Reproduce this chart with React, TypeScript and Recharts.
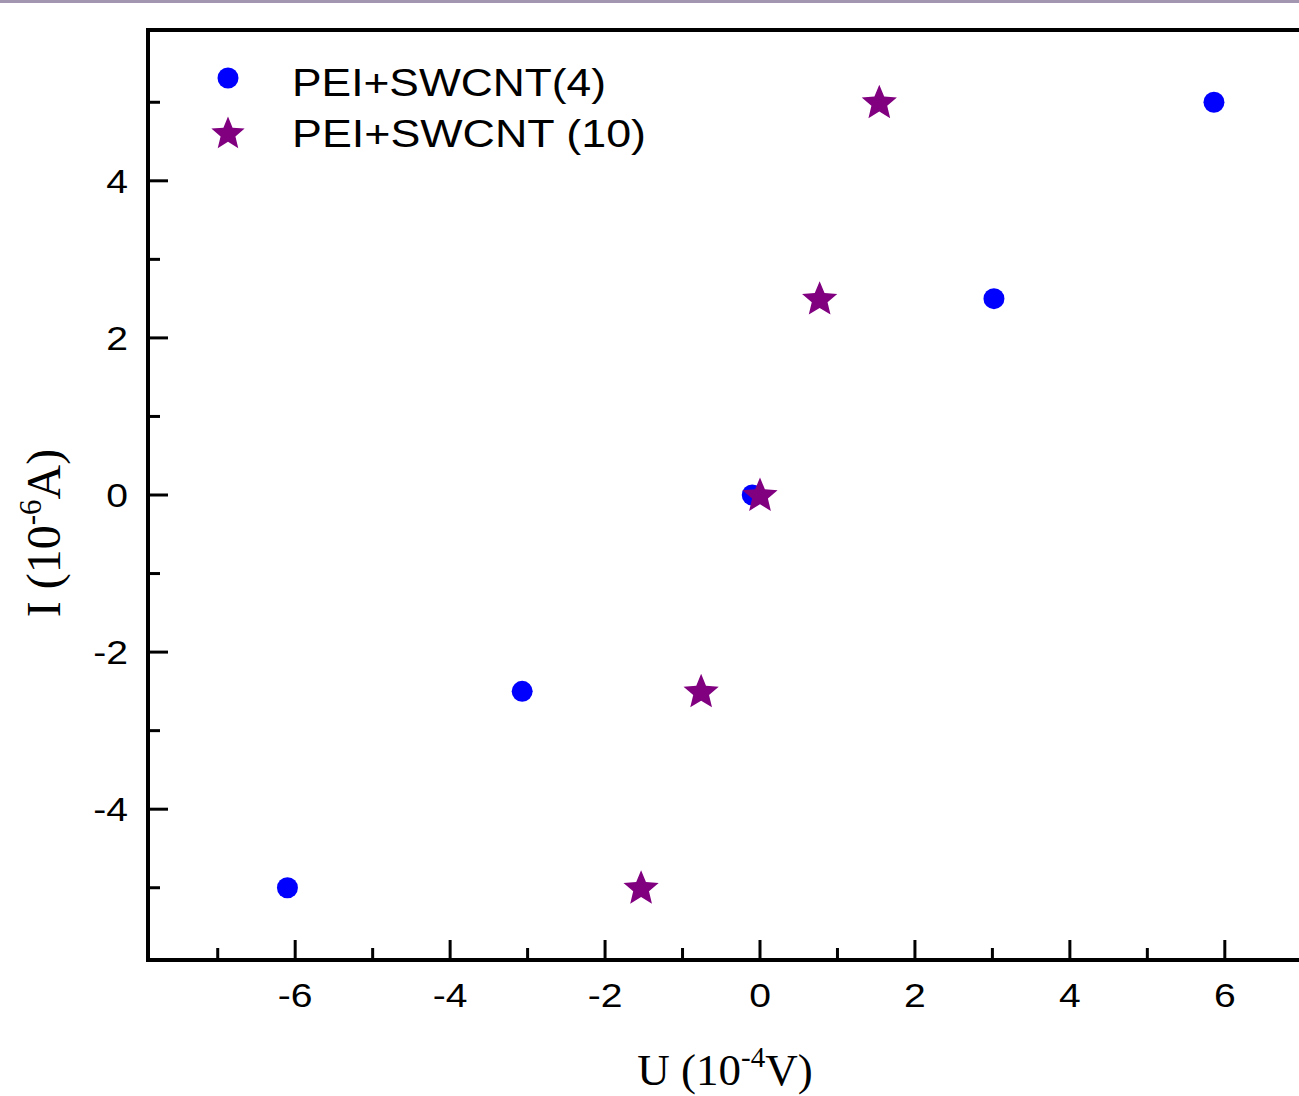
import React from "react";
import { ScatterChart, Scatter, XAxis, YAxis, ReferenceArea, Legend } from "recharts";

const seriesNames = ["PEI+SWCNT(4)", "PEI+SWCNT (10)"];
const swcnt4X = [-6.1, -3.07, -0.1, 3.02, 5.86];
const swcnt4Y = [-5, -2.5, 0, 2.5, 5];
const swcnt10X = [-1.535, -0.76, 0, 0.77, 1.54];
const swcnt10Y = [-5, -2.5, 0, 2.5, 5];
const xTicks = [-7, -6, -5, -4, -3, -2, -1, 0, 1, 2, 3, 4, 5, 6, 7];
const yTicks = [-5, -4, -3, -2, -1, 0, 1, 2, 3, 4, 5];
const X_DOMAIN: [number, number] = [-7.9, 7.9];
const Y_DOMAIN: [number, number] = [-5.92, 5.92];

const data4 = swcnt4X.map((x, i) => ({ x, y: swcnt4Y[i] }));
const data10 = swcnt10X.map((x, i) => ({ x, y: swcnt10Y[i] }));

const BLUE = "#0000FF";
const PURPLE = "#800080";
const SANS = "'Liberation Sans', Arial, sans-serif";
const SERIF = "'Liberation Serif', 'Times New Roman', serif";

function starPath(cx: number, cy: number, R: number, r: number) {
  const pts: string[] = [];
  for (let i = 0; i < 10; i++) {
    const rad = i % 2 === 0 ? R : r;
    const a = -Math.PI / 2 + (i * Math.PI) / 5;
    pts.push(`${(cx + rad * Math.cos(a)).toFixed(2)},${(cy + rad * Math.sin(a)).toFixed(2)}`);
  }
  return "M" + pts.join("L") + "Z";
}

const CircleShape = (props: any) => {
  const { cx, cy } = props;
  return <circle cx={cx} cy={cy} r={10.5} fill={BLUE} />;
};

const StarShape = (props: any) => {
  const { cx, cy } = props;
  return <path d={starPath(cx, cy + 1, 18.5, 8.3)} fill={PURPLE} />;
};

const XTick = (props: any) => {
  const { x, y, payload } = props;
  const v = payload.value;
  const major = v % 2 === 0;
  return (
    <g>
      <line x1={x} x2={x} y1={y} y2={y - (major ? 20 : 12)} stroke="#000" strokeWidth={3} />
      {major && (
        <text
          transform={`translate(${x},${y + 47}) scale(1.15,1)`}
          textAnchor="middle"
          fontSize={34}
          fontFamily={SANS}
          fill="#000"
        >
          {String(v)}
        </text>
      )}
    </g>
  );
};

const YTick = (props: any) => {
  const { x, y, payload } = props;
  const v = payload.value;
  const major = v % 2 === 0;
  return (
    <g>
      <line x1={x} x2={x + (major ? 20 : 12)} y1={y} y2={y} stroke="#000" strokeWidth={3} />
      {major && (
        <text
          transform={`translate(${x - 20},${y + 12}) scale(1.15,1)`}
          textAnchor="end"
          fontSize={34}
          fontFamily={SANS}
          fill="#000"
        >
          {String(v)}
        </text>
      )}
    </g>
  );
};

const XTitle = (props: any) => {
  const { viewBox } = props;
  const cx = viewBox.x + viewBox.width / 2 - 35;
  const cy = viewBox.y + 125;
  return (
    <text x={cx} y={cy} textAnchor="middle" fontSize={45} fontFamily={SERIF} fill="#000">
      U (10
      <tspan fontSize={29} dy={-18}>-4</tspan>
      <tspan dy={18}>V)</tspan>
    </text>
  );
};

const YTitle = (props: any) => {
  const { viewBox } = props;
  const cx = 60;
  const cy = viewBox.y + viewBox.height / 2 + 38;
  return (
    <text
      transform={`translate(${cx},${cy}) rotate(-90)`}
      textAnchor="middle"
      fontSize={48}
      fontFamily={SERIF}
      fill="#000"
    >
      I (10
      <tspan fontSize={31} dy={-19}>-6</tspan>
      <tspan dy={19}>A)</tspan>
    </text>
  );
};

const LegendContent = () => (
  <svg width={480} height={110} style={{ display: "block", overflow: "visible" }}>
    <circle cx={28} cy={28} r={10.5} fill={BLUE} />
    <text x={92} y={46} fontSize={39} fontFamily={SANS} fill="#000" textLength={314} lengthAdjust="spacingAndGlyphs">
      {seriesNames[0]}
    </text>
    <path d={starPath(28, 84, 17.5, 7.8)} fill={PURPLE} />
    <text x={92} y={97} fontSize={39} fontFamily={SANS} fill="#000" textLength={354} lengthAdjust="spacingAndGlyphs">
      {seriesNames[1]}
    </text>
  </svg>
);

export default function App() {
  return (
    <div
      style={{
        position: "fixed",
        left: 0,
        top: 0,
        width: 1299,
        height: 1096,
        overflow: "hidden",
        background: "#fff",
      }}
    >
      <div style={{ position: "absolute", left: 0, top: 0, width: 1299, height: 3, background: "#A396B0" }} />
      <ScatterChart width={1400} height={1096} margin={{ top: 30, left: 147, right: 28, bottom: 135 }}>
        <XAxis
          type="number"
          dataKey="x"
          domain={X_DOMAIN}
          ticks={xTicks}
          allowDataOverflow
          height={1}
          tickSize={0}
          tickMargin={0}
          tickLine={false}
          axisLine={false}
          tick={<XTick />}
          interval={0}
          label={<XTitle />}
        />
        <YAxis
          type="number"
          dataKey="y"
          domain={Y_DOMAIN}
          ticks={yTicks}
          allowDataOverflow
          width={1}
          tickSize={0}
          tickMargin={0}
          tickLine={false}
          axisLine={false}
          tick={<YTick />}
          interval={0}
          label={<YTitle />}
        />
        <ReferenceArea
          x1={X_DOMAIN[0]}
          x2={X_DOMAIN[1]}
          y1={Y_DOMAIN[0]}
          y2={Y_DOMAIN[1]}
          fill="none"
          fillOpacity={0}
          stroke="#000"
          strokeWidth={4}
          ifOverflow="visible"
        />
        <Legend
          layout="vertical"
          verticalAlign="middle"
          align="center"
          content={<LegendContent />}
          wrapperStyle={{ left: 200, top: 50, width: 480, height: 110 }}
        />
        <Scatter name={seriesNames[0]} data={data4} shape={<CircleShape />} isAnimationActive={false} />
        <Scatter name={seriesNames[1]} data={data10} shape={<StarShape />} isAnimationActive={false} />
      </ScatterChart>
    </div>
  );
}
